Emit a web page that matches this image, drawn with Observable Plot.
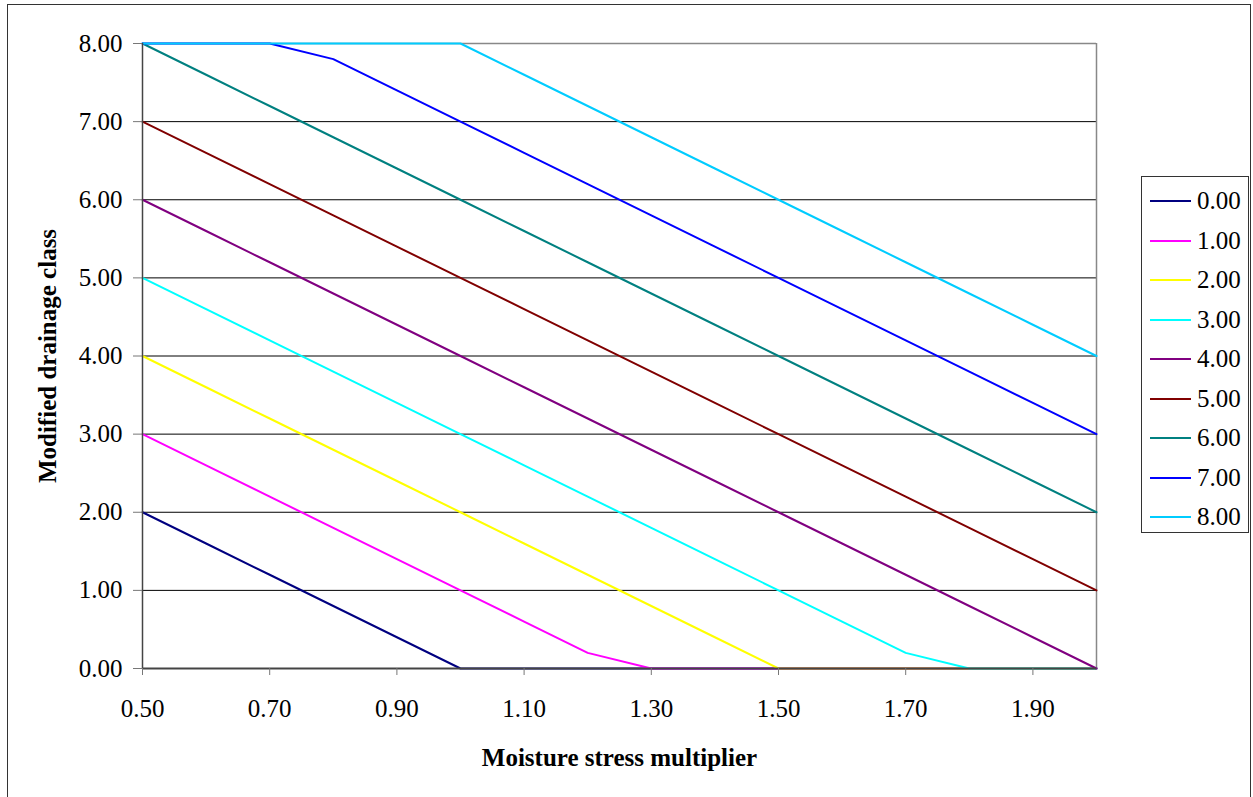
<!DOCTYPE html>
<html>
<head>
<meta charset="utf-8">
<script src="https://cdn.jsdelivr.net/npm/d3@7"></script>
<script src="https://cdn.jsdelivr.net/npm/@observablehq/plot@0.6"></script>
<style>
  html, body { margin: 0; padding: 0; background: #fff; }
  #wrap { position: relative; width: 1253px; height: 797px; overflow: hidden; font-family: "Liberation Serif", "Times New Roman", serif; }
  #frame { position: absolute; left: 7px; top: 4px; width: 1244px; height: 820px; border: 1.5px solid #333; box-sizing: border-box; pointer-events: none; }
  #legend { position: absolute; left: 1141px; top: 176px; width: 108px; height: 357px; border: 1px solid #333; box-sizing: border-box; background: #fff; }
  .item { position: absolute; left: 0; height: 30px; width: 106px; }
  .sw { position: absolute; left: 8px; width: 41px; height: 2px; top: 14px; }
  .lab { position: absolute; left: 55px; top: 0; font-size: 25px; line-height: 30px; color: #000; font-family: "Liberation Serif", "Times New Roman", serif; }
  svg { position: absolute; left: 0; top: 0; }
</style>
</head>
<body>
<div id="wrap"><div id="frame"></div></div>
<script>
// ---- data ----
const xValues = [0.5, 0.6, 0.7, 0.8, 0.9, 1.0, 1.1, 1.2, 1.3, 1.4, 1.5, 1.6, 1.7, 1.8, 1.9, 2.0];
const seriesNames = ["0.00", "1.00", "2.00", "3.00", "4.00", "5.00", "6.00", "7.00", "8.00"];
const s0 = [2.0, 1.6, 1.2, 0.8, 0.4, 0, 0, 0, 0, 0, 0, 0, 0, 0, 0, 0];
const s1 = [3.0, 2.6, 2.2, 1.8, 1.4, 1.0, 0.6, 0.2, 0, 0, 0, 0, 0, 0, 0, 0];
const s2 = [4.0, 3.6, 3.2, 2.8, 2.4, 2.0, 1.6, 1.2, 0.8, 0.4, 0, 0, 0, 0, 0, 0];
const s3 = [5.0, 4.6, 4.2, 3.8, 3.4, 3.0, 2.6, 2.2, 1.8, 1.4, 1.0, 0.6, 0.2, 0, 0, 0];
const s4 = [6.0, 5.6, 5.2, 4.8, 4.4, 4.0, 3.6, 3.2, 2.8, 2.4, 2.0, 1.6, 1.2, 0.8, 0.4, 0];
const s5 = [7.0, 6.6, 6.2, 5.8, 5.4, 5.0, 4.6, 4.2, 3.8, 3.4, 3.0, 2.6, 2.2, 1.8, 1.4, 1.0];
const s6 = [8.0, 7.6, 7.2, 6.8, 6.4, 6.0, 5.6, 5.2, 4.8, 4.4, 4.0, 3.6, 3.2, 2.8, 2.4, 2.0];
const s7 = [8.0, 8.0, 8.0, 7.8, 7.4, 7.0, 6.6, 6.2, 5.8, 5.4, 5.0, 4.6, 4.2, 3.8, 3.4, 3.0];
const s8 = [8.0, 8.0, 8.0, 8.0, 8.0, 8.0, 7.6, 7.2, 6.8, 6.4, 6.0, 5.6, 5.2, 4.8, 4.4, 4.0];
const seriesValues = [s0, s1, s2, s3, s4, s5, s6, s7, s8];
const colors = ["#000080", "#FF00FF", "#FFFF00", "#00FFFF", "#800080", "#800000", "#008080", "#0000FF", "#00CCFF"];
const xTicks = [0.5, 0.7, 0.9, 1.1, 1.3, 1.5, 1.7, 1.9];
const yTicks = [0, 1, 2, 3, 4, 5, 6, 7, 8];
const gridY = [1, 2, 3, 4, 5, 6, 7];
const xTitle = "Moisture stress multiplier";
const yTitle = "Modified drainage class";

// ---- table ----
const rows = [];
seriesNames.forEach((name, i) => {
  seriesValues[i].forEach((v, j) => rows.push({series: name, x: xValues[j], y: v}));
});

const fmt = d3.format(".2f");
const serif = "'Liberation Serif', 'Times New Roman', serif";

const chart = Plot.plot({
  width: 1253,
  height: 797,
  marginLeft: 142,
  marginRight: 157,
  marginTop: 43,
  marginBottom: 129,
  x: {domain: [0.5, 2.0]},
  y: {domain: [0, 8]},
  color: {domain: seriesNames, range: colors},
  style: {fontFamily: serif, fontSize: "25px", background: "transparent", color: "#000"},
  marks: [
    Plot.ruleY(gridY, {stroke: "#000", strokeWidth: 1}),
    Plot.ruleY([8], {stroke: "#888", strokeWidth: 1.5}),
    Plot.ruleX([2.0], {stroke: "#888", strokeWidth: 1.5}),
    Plot.line(rows, {x: "x", y: "y", z: "series", stroke: "series", strokeWidth: 2}),
    Plot.ruleX([0.5], {stroke: "#444", strokeWidth: 1.5}),
    Plot.ruleY([0], {stroke: "#444", strokeWidth: 2}),
    Plot.axisX({ticks: xTicks, tickFormat: fmt, tickSize: 7, tickPadding: 24, stroke: "#777", fill: "#000", fontFamily: serif, label: null}),
    Plot.axisY({ticks: yTicks, tickFormat: fmt, tickSize: 9, tickPadding: 11, stroke: "#777", fill: "#000", fontFamily: serif, label: null}),
    Plot.text([xTitle], {text: d => d, frameAnchor: "bottom", lineAnchor: "middle", textAnchor: "middle", dy: 89, fontWeight: "bold", fontSize: 25, fontFamily: serif, fill: "#000"}),
    Plot.text([yTitle], {text: d => d, frameAnchor: "left", lineAnchor: "middle", textAnchor: "middle", dx: -95, rotate: -90, fontWeight: "bold", fontSize: 25, fontFamily: serif, fill: "#000"})
  ]
});

const wrap = document.getElementById("wrap");
wrap.insertBefore(chart, wrap.firstChild);

// ---- legend ----
const legend = document.createElement("div");
legend.id = "legend";
seriesNames.forEach((name, i) => {
  const item = document.createElement("div");
  item.className = "item";
  item.style.top = (9 + i * 39.5) + "px";
  const sw = document.createElement("div");
  sw.className = "sw";
  sw.style.background = colors[i];
  const lab = document.createElement("div");
  lab.className = "lab";
  lab.textContent = name;
  item.appendChild(sw);
  item.appendChild(lab);
  legend.appendChild(item);
});
wrap.appendChild(legend);
</script>
</body>
</html>
